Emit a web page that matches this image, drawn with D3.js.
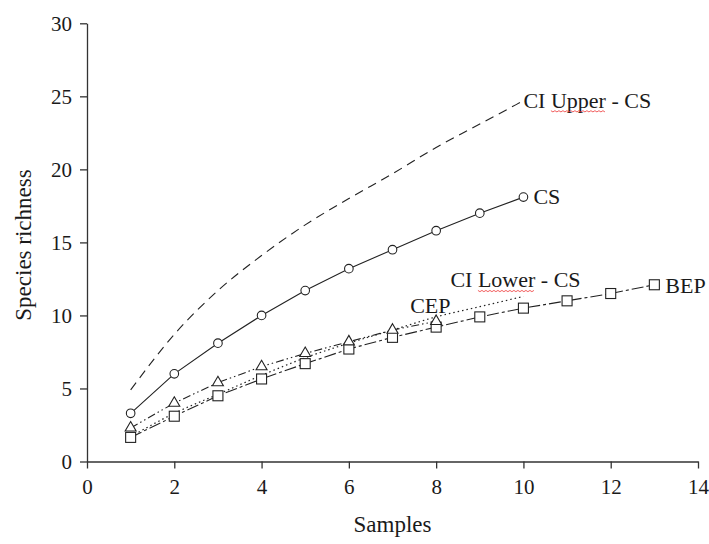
<!DOCTYPE html>
<html>
<head>
<meta charset="utf-8">
<script src="https://cdn.jsdelivr.net/npm/d3@7"></script>
<style>
  html, body { margin: 0; padding: 0; background: #fff; }
  svg { display: block; }
  text { font-family: "Liberation Serif", "Times New Roman", serif; fill: #1a1a1a; }
</style>
</head>
<body>
<svg id="chart" width="709" height="544"></svg>
<script>
// ---- data ----
const xTicks = [0, 2, 4, 6, 8, 10, 12, 14];
const yTicks = [0, 5, 10, 15, 20, 25, 30];

const samplesCS = [1, 2, 3, 4, 5, 6, 7, 8, 9, 10];
const csValues = [3.3, 6.0, 8.1, 10.0, 11.7, 13.2, 14.5, 15.8, 17.0, 18.1];
const ciUpperValues = [4.9, 8.7, 11.7, 14.1, 16.2, 18.0, 19.7, 21.5, 23.1, 24.7];
const ciLowerValues = [1.7, 3.3, 4.6, 5.9, 7.1, 8.1, 9.0, 9.9, 10.6, 11.3];

const samplesCEP = [1, 2, 3, 4, 5, 6, 7, 8];
const cepValues = [2.3, 4.0, 5.4, 6.5, 7.4, 8.2, 9.0, 9.6];

const samplesBEP = [1, 2, 3, 4, 5, 6, 7, 8, 9, 10, 11, 12, 13];
const bepValues = [1.65, 3.1, 4.5, 5.65, 6.7, 7.7, 8.5, 9.2, 9.9, 10.5, 11.0, 11.5, 12.1];

const seriesNames = ["CI Upper - CS", "CS", "CI Lower - CS", "CEP", "BEP"];

// ---- layout ----
const svg = d3.select("#chart");
const margin = { left: 87, top: 23.3, right: 11, bottom: 82.5 };
const W = 709, H = 544;
const x = d3.scaleLinear().domain([0, 14]).range([margin.left, W - margin.right]);
const y = d3.scaleLinear().domain([0, 30]).range([H - margin.bottom, margin.top]);

const ink = "#222";
const axisInk = "#333";

// axes
const xAxis = svg.append("g")
  .attr("transform", `translate(0,${y(0)})`)
  .call(d3.axisBottom(x).tickValues(xTicks).tickSize(7).tickSizeOuter(0).tickPadding(10));
const yAxis = svg.append("g")
  .attr("transform", `translate(${x(0)},0)`)
  .call(d3.axisLeft(y).tickValues(yTicks).tickSize(7).tickSizeOuter(0).tickPadding(8));
[xAxis, yAxis].forEach(g => {
  g.select(".domain").attr("stroke", axisInk).attr("stroke-width", 1.3);
  g.selectAll(".tick line").attr("stroke", axisInk).attr("stroke-width", 1.3);
  g.selectAll(".tick text")
    .style("font-family", '"Liberation Serif", "Times New Roman", serif')
    .style("font-size", "21px").attr("fill", "#1a1a1a");
});
xAxis.selectAll(".tick text").attr("dy", "0.72em");

// axis titles
svg.append("text")
  .attr("x", (x(0) + x(14)) / 2 + 0)
  .attr("y", 532)
  .attr("text-anchor", "middle")
  .style("font-size", "23px")
  .text("Samples");
svg.append("text")
  .attr("transform", `translate(31,${245}) rotate(-90)`)
  .attr("text-anchor", "middle")
  .style("font-size", "23px")
  .text("Species richness");

// lines
const mk = (xs, vs) => xs.map((d, i) => ({ x: d, y: vs[i] }));
const lineLin = d3.line().x(d => x(d.x)).y(d => y(d.y)).curve(d3.curveLinear);
const lineSmooth = d3.line().x(d => x(d.x)).y(d => y(d.y)).curve(d3.curveMonotoneX);

const upper = mk(samplesCS, ciUpperValues);
const cs = mk(samplesCS, csValues);
const lower = mk(samplesCS, ciLowerValues);
const cep = mk(samplesCEP, cepValues);
const bep = mk(samplesBEP, bepValues);

svg.append("path").datum(upper).attr("d", lineSmooth)
  .attr("fill", "none").attr("stroke", ink).attr("stroke-width", 1.1)
  .attr("stroke-dasharray", "9,6");
svg.append("path").datum(lower).attr("d", lineSmooth)
  .attr("fill", "none").attr("stroke", ink).attr("stroke-width", 1.2)
  .attr("stroke-dasharray", "1.5,3");
svg.append("path").datum(cep).attr("d", lineLin)
  .attr("fill", "none").attr("stroke", ink).attr("stroke-width", 1.1)
  .attr("stroke-dasharray", "8,3,1.5,3,1.5,3");
svg.append("path").datum(bep).attr("d", lineLin)
  .attr("fill", "none").attr("stroke", ink).attr("stroke-width", 1.1)
  .attr("stroke-dasharray", "12,3,3,3");
svg.append("path").datum(cs).attr("d", lineLin)
  .attr("fill", "none").attr("stroke", ink).attr("stroke-width", 1.1);

// markers
svg.append("g").selectAll("rect").data(bep).join("rect")
  .attr("x", d => x(d.x) - 5).attr("y", d => y(d.y) - 5)
  .attr("width", 10).attr("height", 10)
  .attr("fill", "#fff").attr("stroke", ink).attr("stroke-width", 1.1);
const tri = d3.symbol().type(d3.symbolTriangle).size(52);
svg.append("g").selectAll("path").data(cep).join("path")
  .attr("transform", d => `translate(${x(d.x)},${y(d.y)})`)
  .attr("d", tri)
  .attr("fill", "#fff").attr("stroke", ink).attr("stroke-width", 1.1);
svg.append("g").selectAll("circle").data(cs).join("circle")
  .attr("cx", d => x(d.x)).attr("cy", d => y(d.y)).attr("r", 4.3)
  .attr("fill", "#fff").attr("stroke", ink).attr("stroke-width", 1.1);

// series labels placed relative to the last point of each series
const last = a => a[a.length - 1];
const labelSpecs = [
  { name: seriesNames[0], p: last(upper), dx: 0, dy: 7 },
  { name: seriesNames[1], p: last(cs), dx: 10, dy: 7 },
  { name: seriesNames[2], p: last(lower), dx: -73, dy: -9 },
  { name: seriesNames[3], p: last(cep), dx: -26, dy: -8 },
  { name: seriesNames[4], p: last(bep), dx: 11, dy: 8 }
];
const labels = svg.append("g");
labelSpecs.forEach(s => {
  const t = labels.append("text")
    .attr("x", x(s.p.x) + s.dx)
    .attr("y", y(s.p.y) + s.dy)
    .style("font-size", "22px")
    .text(s.name);
  // red spell-check squiggle under "Upper"/"Lower"
  const m = s.name.match(/Upper|Lower/);
  if (m) {
    const node = t.node();
    const start = node.getSubStringLength(0, m.index);
    const len = node.getSubStringLength(m.index, m[0].length);
    const x0 = x(s.p.x) + s.dx + start, y0 = y(s.p.y) + s.dy + 3;
    const pts = [];
    for (let k = 0; k <= Math.floor(len / 2); k++) pts.push([x0 + k * 2, y0 + (k % 2 ? 1.2 : 0)]);
    labels.append("path").attr("d", d3.line()(pts))
      .attr("fill", "none").attr("stroke", "#e33").attr("stroke-width", 0.8);
  }
});
</script>
</body>
</html>
